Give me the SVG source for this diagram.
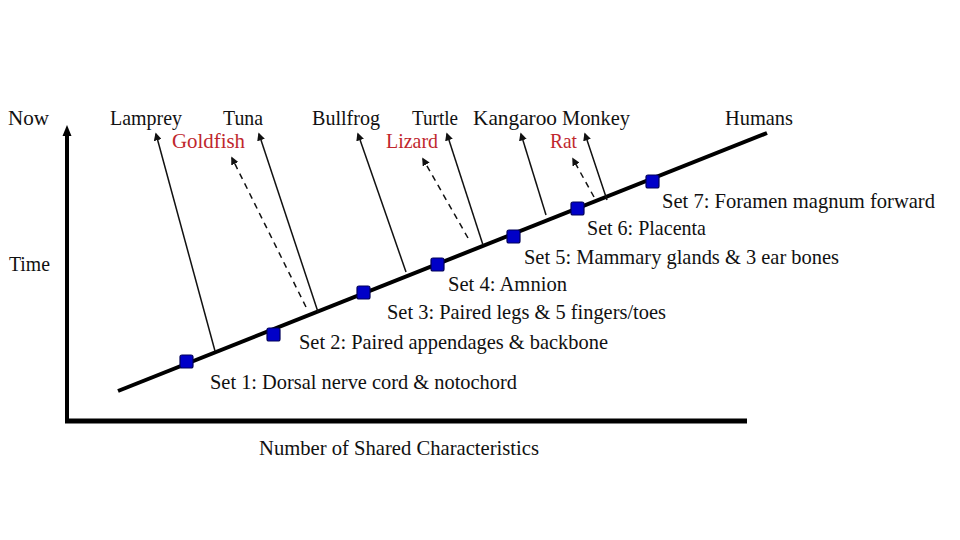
<svg xmlns="http://www.w3.org/2000/svg" width="960" height="540" viewBox="0 0 960 540">
<defs>
<style>
text{font-family:"Liberation Serif","Times New Roman",serif;font-size:21.5px;fill:#111}
.red{fill:#c0272d}
.br{stroke:#111;stroke-width:1.5;fill:none}
.dash{stroke-dasharray:6 5}
.mk{fill:#0000c8;stroke:#00005a;stroke-width:1.2}
</style>
<marker id="ah" viewBox="0 0 10 10" refX="8" refY="5" markerWidth="8" markerHeight="8" markerUnits="userSpaceOnUse" orient="auto">
<path d="M0,0 L10,5 L0,10 Z" fill="#111"/>
</marker>
</defs>
<rect width="960" height="540" fill="#fff"/>
<g id="axes">
<line x1="67" y1="423" x2="67" y2="134" stroke="#000" stroke-width="4"/>
<polygon points="67,125 62.5,136 71.5,136" fill="#000"/>
<line x1="65" y1="421" x2="747" y2="421" stroke="#000" stroke-width="5"/>
<text x="8" y="125" textLength="41" lengthAdjust="spacingAndGlyphs">Now</text>
<text x="9" y="271" textLength="41" lengthAdjust="spacingAndGlyphs">Time</text>
<text x="259" y="455" textLength="280" lengthAdjust="spacingAndGlyphs">Number of Shared Characteristics</text>
</g>
<g id="connectors">
<line x1="118" y1="391" x2="767" y2="133" stroke="#000" stroke-width="4"/>
<line class="br" x1="215" y1="351" x2="156" y2="134" marker-end="url(#ah)"/>
<line class="br dash" x1="306" y1="307" x2="232" y2="158" marker-end="url(#ah)"/>
<line class="br" x1="318" y1="312" x2="259" y2="134" marker-end="url(#ah)"/>
<line class="br" x1="406" y1="272" x2="358" y2="134" marker-end="url(#ah)"/>
<line class="br dash" x1="468" y1="238" x2="423" y2="159" marker-end="url(#ah)"/>
<line class="br" x1="483" y1="245" x2="447" y2="134" marker-end="url(#ah)"/>
<line class="br" x1="546" y1="215" x2="521" y2="134" marker-end="url(#ah)"/>
<line class="br dash" x1="594" y1="197" x2="573" y2="159" marker-end="url(#ah)"/>
<line class="br" x1="607" y1="200" x2="585" y2="134" marker-end="url(#ah)"/>
</g>
<g id="lamprey"><text x="110" y="125" textLength="72" lengthAdjust="spacingAndGlyphs">Lamprey</text></g>
<g id="goldfish"><text class="red" x="172" y="148" textLength="73" lengthAdjust="spacingAndGlyphs">Goldfish</text></g>
<g id="tuna"><text x="223" y="125" textLength="40" lengthAdjust="spacingAndGlyphs">Tuna</text></g>
<g id="bullfrog"><text x="312" y="125" textLength="68" lengthAdjust="spacingAndGlyphs">Bullfrog</text></g>
<g id="lizard"><text class="red" x="386" y="148" textLength="52" lengthAdjust="spacingAndGlyphs">Lizard</text></g>
<g id="turtle"><text x="412" y="125" textLength="46" lengthAdjust="spacingAndGlyphs">Turtle</text></g>
<g id="kangaroo"><text x="473" y="125" textLength="84" lengthAdjust="spacingAndGlyphs">Kangaroo</text></g>
<g id="rat"><text class="red" x="550" y="148" textLength="27" lengthAdjust="spacingAndGlyphs">Rat</text></g>
<g id="monkey"><text x="562" y="125" textLength="68" lengthAdjust="spacingAndGlyphs">Monkey</text></g>
<g id="humans"><text x="725" y="125" textLength="68" lengthAdjust="spacingAndGlyphs">Humans</text></g>
<g id="set1"><rect class="mk" x="180" y="355" width="13" height="13" rx="2"/><text x="210" y="389" textLength="307" lengthAdjust="spacingAndGlyphs">Set 1: Dorsal nerve cord &amp; notochord</text></g>
<g id="set2"><rect class="mk" x="267" y="328" width="13" height="13" rx="2"/><text x="299" y="349" textLength="309" lengthAdjust="spacingAndGlyphs">Set 2: Paired appendages &amp; backbone</text></g>
<g id="set3"><rect class="mk" x="357" y="286" width="13" height="13" rx="2"/><text x="387" y="319" textLength="279" lengthAdjust="spacingAndGlyphs">Set 3: Paired legs &amp; 5 fingers/toes</text></g>
<g id="set4"><rect class="mk" x="431" y="258" width="13" height="13" rx="2"/><text x="448" y="291" textLength="119" lengthAdjust="spacingAndGlyphs">Set 4: Amnion</text></g>
<g id="set5"><rect class="mk" x="507" y="230" width="13" height="13" rx="2"/><text x="524" y="264" textLength="315" lengthAdjust="spacingAndGlyphs">Set 5: Mammary glands &amp; 3 ear bones</text></g>
<g id="set6"><rect class="mk" x="571" y="202" width="13" height="13" rx="2"/><text x="587" y="235" textLength="119" lengthAdjust="spacingAndGlyphs">Set 6: Placenta</text></g>
<g id="set7"><rect class="mk" x="646" y="175" width="13" height="13" rx="2"/><text x="662" y="208" textLength="273" lengthAdjust="spacingAndGlyphs">Set 7: Foramen magnum forward</text></g>
</svg>
